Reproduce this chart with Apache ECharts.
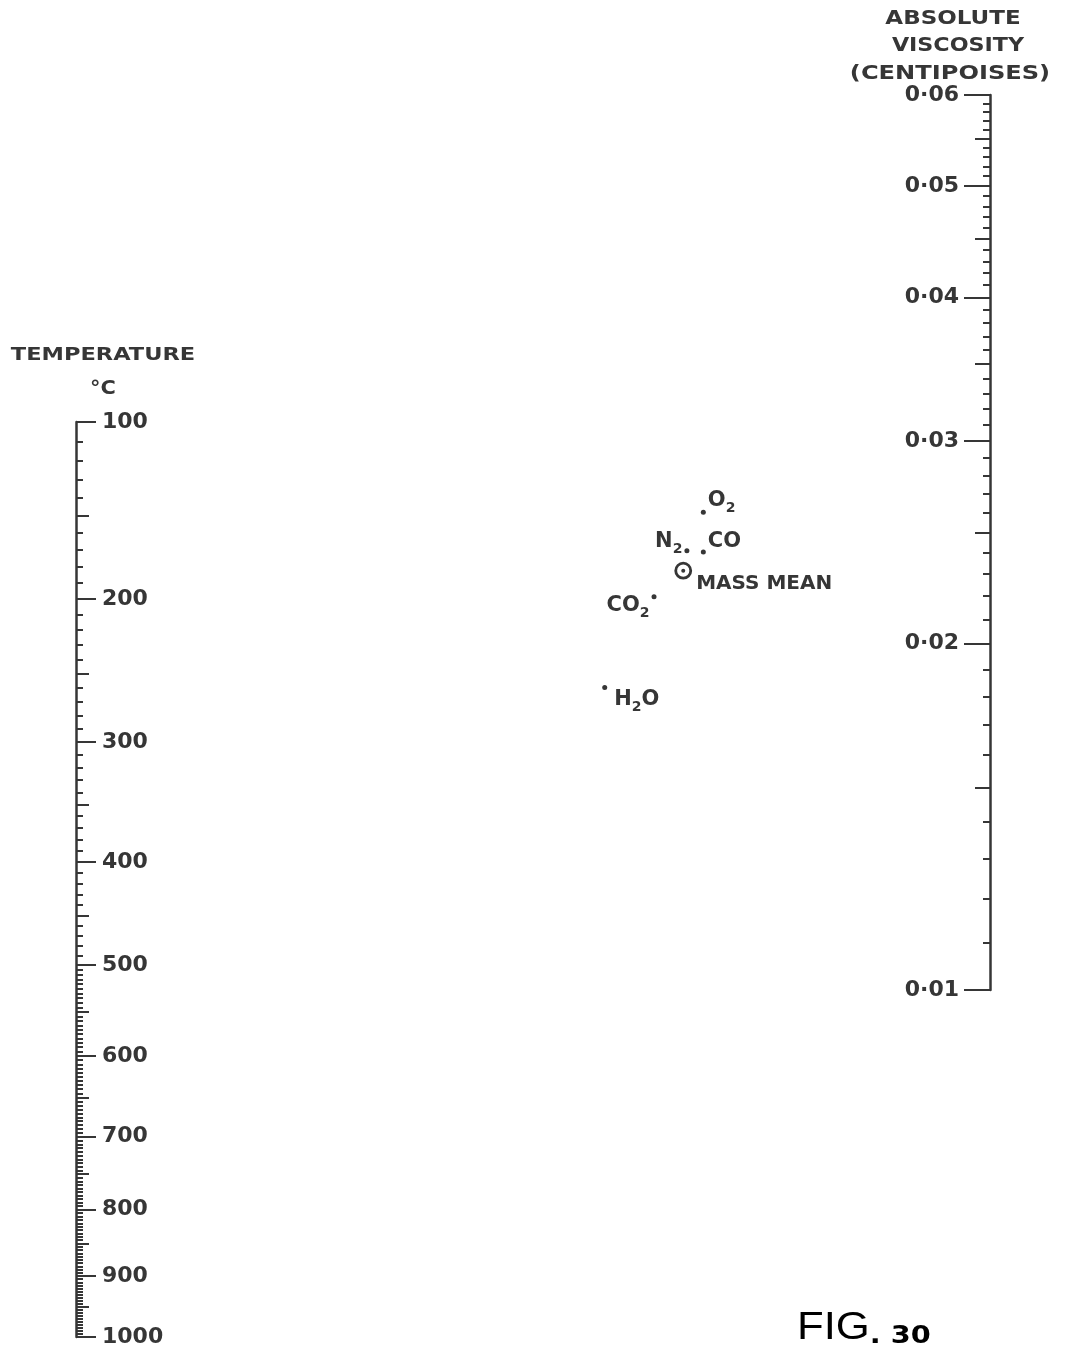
<!DOCTYPE html>
<html>
<head>
<meta charset="utf-8">
<title>Fig. 30 – Viscosity nomogram</title>
<script src="https://cdn.jsdelivr.net/npm/echarts@6/dist/echarts.min.js"></script>
<style>
  html, body { margin: 0; padding: 0; background: #ffffff; }
  #chart { width: 1066px; height: 1350px; }
</style>
</head>
<body>
<div id="chart"></div>
<script>
// ---- scale values ----------------------------------------------------------
// Temperature scale in °C; plotted on log10 of the absolute temperature.
const tempLabels = [100, 200, 300, 400, 500, 600, 700, 800, 900, 1000];
const tempHalf = [150, 250, 350, 450, 550, 650, 750, 850, 950];
const tempFineSteps = [[100, 500, 10], [500, 1000, 5]]; // [from, to, step]

// Absolute viscosity in centipoises; plotted on log10 of the viscosity.
const viscLabels = [0.01, 0.02, 0.03, 0.04, 0.05, 0.06];
const viscHalf = [0.015, 0.025, 0.035, 0.045, 0.055];
const viscFineMilli = [10, 60]; // fine ticks every 0.001 between these (×0.001)

// ---- gas reference points (X, Y grid coordinates of the nomogram) ---------
const gasNames = ['O2', 'N2', 'CO', 'CO2', 'H2O'];
const gasX = [68.6, 66.8, 68.6, 63.2, 57.8];
const gasY = [66.4, 63.3, 63.2, 59.6, 52.3];
const massMeanXY = [66.4, 61.7];

// ---- styling --------------------------------------------------------------
const INK = '#363636';
const FONT = '"DejaVu Sans", "Noto Sans", sans-serif';

const tLog = t => Math.log10(t + 273.15);
const vLog = v => Math.log10(v);

const tempFine = [];
tempFineSteps.forEach(([a, b, s]) => {
  for (let t = a; t < b; t += s) if (t % 50 !== 0) tempFine.push(t);
});
const viscFine = [];
for (let k = viscFineMilli[0]; k <= viscFineMilli[1]; k++) if (k % 5 !== 0) viscFine.push(k / 1000);

// label text and placement for each gas symbol
const gasLabelStyle = {
  O2:  { text: '{m|O}{s|2}',  position: 'right', distance: 2, offset: [0, -12] },
  N2:  { text: '{m|N}{s|2}',  position: 'left',  distance: 2, offset: [0, -9] },
  CO:  { text: '{m|CO}',      position: 'right', distance: 2, offset: [0, -11] },
  CO2: { text: '{m|CO}{s|2}', position: 'left',  distance: 2, offset: [0, 9] },
  H2O: { text: '{m|H}{s|2}{m|O}', position: 'right', distance: 7, offset: [0, 12] }
};

const richText = {
  m: { fontSize: 21, fontWeight: 'bold', fontFamily: FONT, color: INK, lineHeight: 30 },
  s: { fontSize: 14, fontWeight: 'bold', fontFamily: FONT, color: INK, lineHeight: 17, verticalAlign: 'bottom' }
};

function scaleAxis(gridIndex, position, min, max, inverse, tick, label, line) {
  return {
    type: 'value', gridIndex, position, min, max, inverse,
    splitLine: { show: false },
    axisLine: { show: !!line, onZero: false, lineStyle: { color: INK, width: 2.5 } },
    axisTick: tick
      ? { show: true, inside: true, length: tick.length, customValues: tick.values,
          lineStyle: { color: INK, width: 2 } }
      : { show: false },
    axisLabel: label
      ? { show: true, inside: true, margin: label.margin, customValues: label.values,
          formatter: label.formatter, color: INK, fontSize: 22, fontWeight: 'bold', fontFamily: FONT }
      : { show: false }
  };
}

const tMin = tLog(tempLabels[0]), tMax = tLog(tempLabels[tempLabels.length - 1]);
const vMin = vLog(viscLabels[0]), vMax = vLog(viscLabels[viscLabels.length - 1]);
const tempFmt = v => String(Math.round(Math.pow(10, v) - 273.15));
const viscFmt = v => (Math.round(Math.pow(10, v) * 1000) / 1000).toFixed(2).replace('.', '·');

const gasData = gasNames.map((name, i) => {
  const st = gasLabelStyle[name];
  return {
    name,
    value: [gasX[i], gasY[i]],
    label: {
      show: true, position: st.position, distance: st.distance, offset: st.offset,
      formatter: st.text, rich: richText
    }
  };
});

const titleText = (text, x, y, size, scaleX) => ({
  type: 'text', x, y, scaleX,
  style: { text, fontSize: size, fontWeight: 'bold', fontFamily: FONT, fill: INK,
           align: 'center', verticalAlign: 'middle' }
});

const chart = echarts.init(document.getElementById('chart'), null, { renderer: 'canvas' });

chart.setOption({
  animation: false,
  backgroundColor: '#ffffff',
  grid: [
    { left: 76, top: 422, height: 915, width: 200, outerBoundsMode: 'none', containLabel: false },
    { left: 790, top: 95, height: 895, width: 200, outerBoundsMode: 'none', containLabel: false },
    { left: 77, right: 76, top: 95, bottom: 13, outerBoundsMode: 'none', containLabel: false }
  ],
  xAxis: [
    { type: 'value', gridIndex: 0, min: 0, max: 1, show: false },
    { type: 'value', gridIndex: 1, min: 0, max: 1, show: false },
    { type: 'value', gridIndex: 2, min: 0, max: 100, show: false }
  ],
  yAxis: [
    // temperature
    scaleAxis(0, 'left', tMin, tMax, true,
      { length: 20, values: tempLabels.map(tLog) },
      { margin: 26, values: tempLabels.map(tLog), formatter: tempFmt }, true),
    scaleAxis(0, 'left', tMin, tMax, true, { length: 13, values: tempHalf.map(tLog) }),
    scaleAxis(0, 'left', tMin, tMax, true, { length: 7, values: tempFine.map(tLog) }),
    // viscosity
    scaleAxis(1, 'right', vMin, vMax, false,
      { length: 26, values: viscLabels.map(vLog) },
      { margin: 31, values: viscLabels.map(vLog), formatter: viscFmt }, true),
    scaleAxis(1, 'right', vMin, vMax, false, { length: 15, values: viscHalf.map(vLog) }),
    scaleAxis(1, 'right', vMin, vMax, false, { length: 7, values: viscFine.map(vLog) }),
    // gas point grid
    { type: 'value', gridIndex: 2, min: 0, max: 100, show: false }
  ],
  series: [
    {
      type: 'scatter', xAxisIndex: 2, yAxisIndex: 6,
      symbol: 'circle', symbolSize: 5,
      itemStyle: { color: INK, opacity: 1 },
      data: gasData
    },
    {
      type: 'scatter', xAxisIndex: 2, yAxisIndex: 6,
      symbol: 'circle', symbolSize: 15,
      itemStyle: { color: 'rgba(255,255,255,0)', borderColor: INK, borderWidth: 2.8, opacity: 1 },
      label: {
        show: true, position: 'right', distance: 4, offset: [0, 13],
        formatter: 'MASS MEAN', color: INK, fontSize: 20, fontWeight: 'bold', fontFamily: FONT
      },
      data: [{ name: 'MASS MEAN', value: massMeanXY }]
    },
    {
      type: 'scatter', xAxisIndex: 2, yAxisIndex: 6,
      symbol: 'circle', symbolSize: 4,
      itemStyle: { color: INK, opacity: 1 },
      data: [massMeanXY]
    }
  ],
  graphic: [
    titleText('TEMPERATURE', 103, 355, 18, 1.25),
    titleText('°C', 103, 389, 19, 1.1),
    titleText('ABSOLUTE', 953, 19, 19, 1.21),
    titleText('VISCOSITY', 958, 46, 19, 1.17),
    titleText('(CENTIPOISES)', 950, 74, 19, 1.27),
    { type: 'text', x: 797, y: 1329, scaleX: 1.15,
      style: {
        text: '{a|FIG}{b|. 30}', align: 'left', verticalAlign: 'middle',
        rich: {
          a: { fontSize: 38, fontFamily: '"Liberation Sans", sans-serif', color: INK, lineHeight: 40 },
          b: { fontSize: 25, fontWeight: 'bold', fontFamily: FONT, color: INK, lineHeight: 30, verticalAlign: 'bottom' }
        }
      } }
  ]
});
</script>
</body>
</html>
